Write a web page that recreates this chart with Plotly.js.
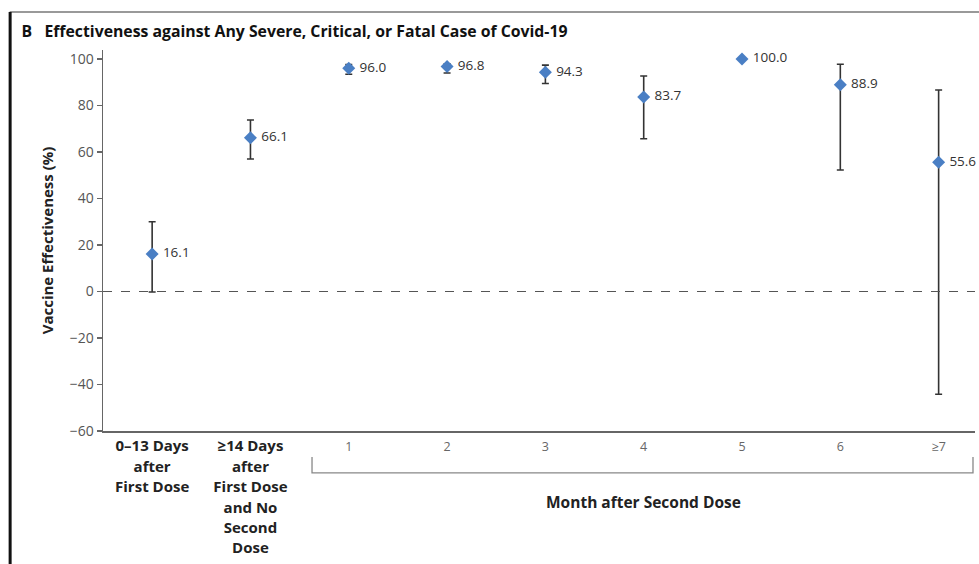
<!DOCTYPE html>
<html>
<head>
<meta charset="utf-8">
<script src="https://cdn.plot.ly/plotly-3.0.1.min.js"></script>
<style>html,body{margin:0;padding:0;background:#fff;}#chart{width:979px;height:564px;}</style>
</head>
<body>
<div id="chart"></div>
<script>
// ---- Data ----
var categories = ["0–13 Days<br>after<br>First Dose", "≥14 Days<br>after<br>First Dose<br>and No<br>Second<br>Dose", "1", "2", "3", "4", "5", "6", "≥7"];
var boldCategory = [true, true, false, false, false, false, false, false, false];
var effectiveness = [16.1, 66.1, 96.0, 96.8, 94.3, 83.7, 100.0, 88.9, 55.6];
var ciUpper = [30.0, 73.8, 97.6, 98.0, 97.4, 92.7, 100.0, 97.8, 86.7];
var ciLower = [-0.2, 57.0, 93.5, 94.0, 89.5, 65.7, 100.0, 52.3, -44.2];
var yTicks = [-60, -40, -20, 0, 20, 40, 60, 80, 100];
var titleText = "<b>B   Effectiveness against Any Severe, Critical, or Fatal Case of Covid-19</b>";
var yTitle = "<b>Vaccine Effectiveness (%)</b>";
var groupLabel = "<b>Month after Second Dose</b>";

var FONT = '"Open Sans", sans-serif';
var xIdx = categories.map(function (c, i) { return i; });
var tickText = categories.map(function (c, i) {
  return boldCategory[i]
    ? '<span style="font-size:15px;font-weight:bold;fill:#222">' + c + '</span>'
    : '<span style="font-size:12.5px;fill:#666">' + c + '</span>';
});

var trace = {
  x: xIdx,
  y: effectiveness,
  type: 'scatter',
  mode: 'markers+text',
  text: effectiveness.map(function (v) { return '\u00a0' + v.toFixed(1); }),
  textposition: 'middle right',
  textfont: { family: FONT, size: 13.5, color: '#333' },
  marker: { symbol: 'diamond', size: 10, color: '#4a7fc4' },
  error_y: {
    type: 'data',
    symmetric: false,
    array: ciUpper.map(function (u, i) { return u - effectiveness[i]; }),
    arrayminus: ciLower.map(function (l, i) { return effectiveness[i] - l; }),
    color: '#333',
    thickness: 1.6,
    width: 3.5
  },
  cliponaxis: false,
  hoverinfo: 'x+y'
};

var layout = {
  width: 979,
  height: 564,
  paper_bgcolor: '#fff',
  plot_bgcolor: '#fff',
  margin: { l: 103, r: 4, t: 50, b: 133 },
  showlegend: false,
  font: { family: FONT, color: '#333' },
  title: {
    text: titleText,
    font: { family: FONT, size: 15.8, color: '#111' },
    xref: 'container', x: 0.022, xanchor: 'left',
    yref: 'container', y: 0.945, yanchor: 'middle'
  },
  xaxis: {
    range: [-0.5, 8.37],
    tickmode: 'array',
    tickvals: xIdx,
    ticktext: tickText,
    tickfont: { family: FONT, size: 15.7, color: '#222' },
    ticks: '',
    showgrid: false,
    zeroline: false,
    showline: true,
    linecolor: '#666',
    linewidth: 1.5,
    fixedrange: true
  },
  yaxis: {
    range: [-60, 103.9],
    tickmode: 'array',
    tickvals: yTicks,
    ticks: 'outside',
    ticklen: 5,
    tickcolor: '#666',
    tickwidth: 1.2,
    tickfont: { family: FONT, size: 14, color: '#555' },
    showgrid: false,
    zeroline: false,
    showline: true,
    linecolor: '#666',
    linewidth: 1.5,
    title: { text: yTitle, font: { family: FONT, size: 15, color: '#222' }, standoff: 12 },
    fixedrange: true
  },
  shapes: [
    // dashed reference line at zero
    { type: 'line', xref: 'paper', yref: 'y', x0: 0, x1: 1, y0: 0, y1: 0,
      line: { color: '#555', width: 1.2, dash: 'dash' } },
    // bracket under month labels
    { type: 'path', xref: 'paper', yref: 'paper',
      path: 'M 0.2397,-0.068 L 0.2397,-0.110 L 0.9977,-0.110 L 0.9977,-0.068',
      line: { color: '#888', width: 1.3 } },
    // frame: top rule and left rule
    { type: 'line', xref: 'paper', yref: 'paper', x0: -0.107, x1: 1.01, y0: 1.0997, y1: 1.0997,
      line: { color: '#777', width: 1.5 } },
    { type: 'line', xref: 'paper', yref: 'paper', x0: -0.1065, x1: -0.1065, y0: 1.1, y1: -0.36,
      line: { color: '#111', width: 3 } }
  ],
  annotations: [
    { text: groupLabel, xref: 'paper', yref: 'paper', x: 0.6193, y: -0.1864,
      xanchor: 'center', yanchor: 'middle', showarrow: false,
      font: { family: FONT, size: 15.5, color: '#222' } }
  ]
};

Plotly.newPlot('chart', [trace], layout, { displayModeBar: false, staticPlot: true });
</script>
</body>
</html>
